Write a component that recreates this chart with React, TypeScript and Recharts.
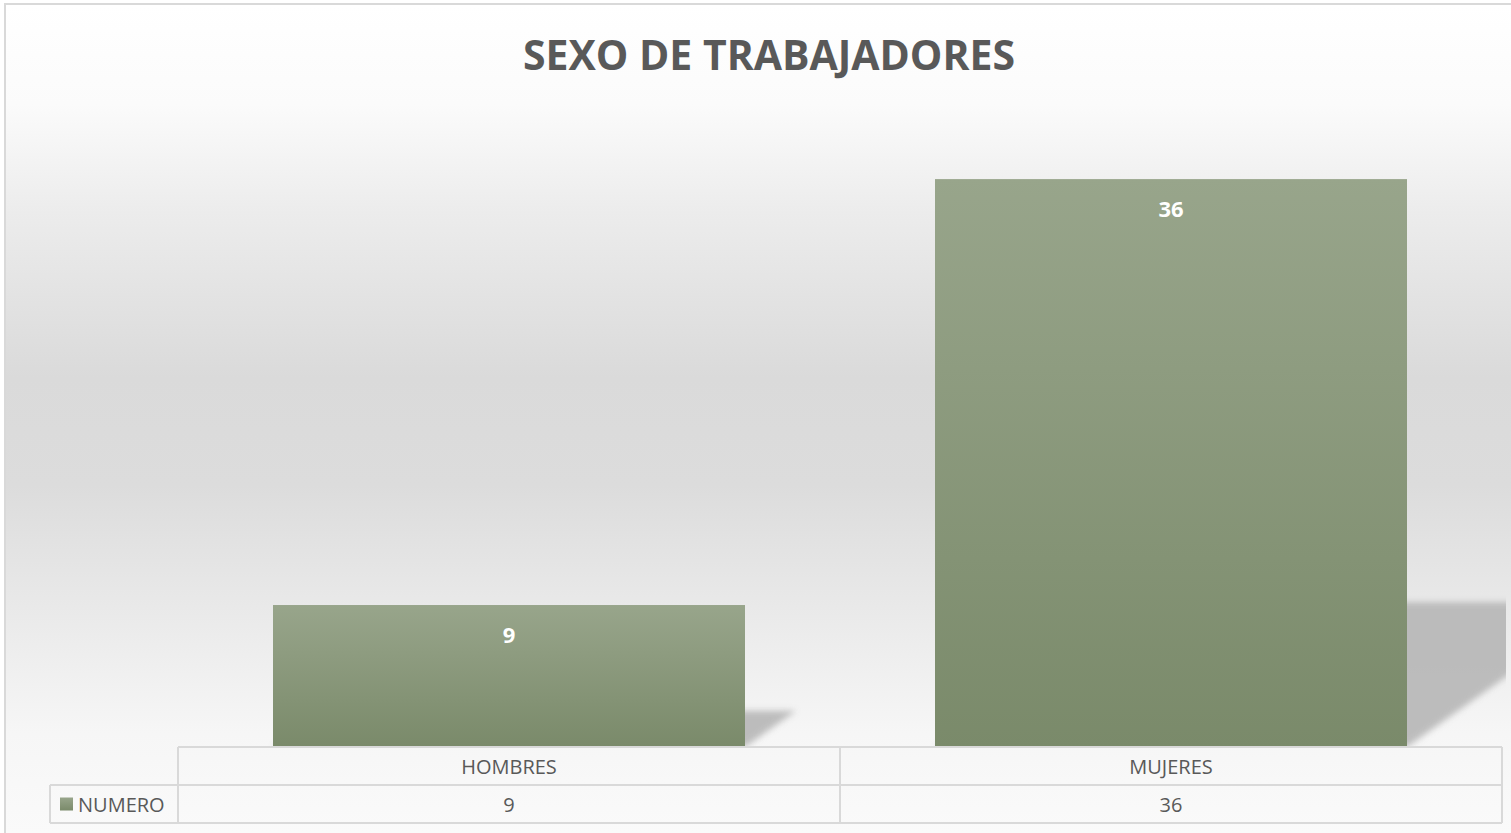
import React from 'react';
import { BarChart, Bar, XAxis, YAxis, LabelList, Customized } from 'recharts';

const categories = ['HOMBRES', 'MUJERES'];
const values = [9, 36];
const seriesName = 'NUMERO';
const chartTitle = 'SEXO DE TRABAJADORES';
const yDomain = [0, 40];

const W = 1511;
const H = 833;
const MARGIN = { top: 116, right: 9, left: 178, bottom: 10 };
const TABLE_H = 76;
const TABLE_TOP = H - MARGIN.bottom - TABLE_H;
const PLOT_W = W - MARGIN.left - MARGIN.right;
const COL_W = PLOT_W / categories.length;
const LEGEND_LEFT = 50;
const LINE = '#d9d9d9';
const TXT = '#595959';
const FONT = '"Open Sans", "DejaVu Sans", sans-serif';

const data = categories.map((c, i) => ({ name: c, value: values[i] }));

const BarShape = (props: any) => {
  const { x, y, width, height } = props;
  const base = y + height;
  const k = 0.255 * height;
  const s = 0.36 * height;
  const pts = `${x},${base} ${x + width},${base} ${x + width + s},${base - k} ${x + s},${base - k}`;
  return (
    <g>
      <polygon points={pts} fill="#b3b3b3" opacity={0.85} filter="url(#shadowBlur)" clipPath="url(#chartClip)" />
      <rect x={x} y={y} width={width} height={height} fill="url(#barGrad)" />
    </g>
  );
};

const TableTick = (props: any) => {
  const { index, payload } = props;
  const left = MARGIN.left + index * COL_W;
  const cx = left + COL_W / 2;
  const r1 = TABLE_TOP;
  const r2 = TABLE_TOP + TABLE_H / 2;
  const r3 = TABLE_TOP + TABLE_H;
  return (
    <g>
      <line x1={left} y1={r1} x2={left + COL_W} y2={r1} stroke={LINE} strokeWidth={2} />
      <line x1={left} y1={r2} x2={left + COL_W} y2={r2} stroke={LINE} strokeWidth={2} />
      <line x1={left} y1={r3} x2={left + COL_W} y2={r3} stroke={LINE} strokeWidth={2} />
      <line x1={left} y1={r1} x2={left} y2={r3} stroke={LINE} strokeWidth={2} />
      {index === categories.length - 1 && (
        <line x1={left + COL_W} y1={r1} x2={left + COL_W} y2={r3} stroke={LINE} strokeWidth={2} />
      )}
      <text x={cx} y={(r1 + r2) / 2} textAnchor="middle" dominantBaseline="central" fill={TXT} fontSize={20} fontFamily={FONT}>
        {payload.value}
      </text>
      <text x={cx} y={(r2 + r3) / 2} textAnchor="middle" dominantBaseline="central" fill={TXT} fontSize={20} fontFamily={FONT}>
        {values[index]}
      </text>
      {index === 0 && (
        <g>
          <line x1={LEGEND_LEFT} y1={r2} x2={left} y2={r2} stroke={LINE} strokeWidth={2} />
          <line x1={LEGEND_LEFT} y1={r3} x2={left} y2={r3} stroke={LINE} strokeWidth={2} />
          <line x1={LEGEND_LEFT} y1={r2} x2={LEGEND_LEFT} y2={r3} stroke={LINE} strokeWidth={2} />
          <rect x={60} y={(r2 + r3) / 2 - 6.5} width={13} height={13} fill="url(#barGrad)" />
          <text x={78} y={(r2 + r3) / 2} dominantBaseline="central" fill={TXT} fontSize={20} fontFamily={FONT}>
            {seriesName}
          </text>
        </g>
      )}
    </g>
  );
};

const Title = () => (
  <text x={769} y={70} textAnchor="middle" fill={TXT} fontSize={42} fontWeight={700} fontFamily={FONT} textLength={492} lengthAdjust="spacingAndGlyphs">
    {chartTitle}
  </text>
);

export default function App() {
  return (
    <div style={{ position: 'absolute', left: 0, top: 0, width: W, height: H, overflow: 'hidden' }}>
      <div
        style={{
          position: 'absolute',
          left: 4,
          top: 3,
          width: W - 4,
          height: H - 3,
          borderLeft: '2px solid #d9d9d9',
          borderTop: '2px solid #d9d9d9',
          boxSizing: 'border-box',
          background:
            'linear-gradient(to bottom, #ffffff 0%, #fbfbfb 12%, #ececec 25%, #dadada 45%, #dcdcdc 58%, #ebebeb 75%, #f6f6f6 88%, #fafafa 100%)',
        }}
      />
      <div style={{ position: 'absolute', left: 0, top: 0 }}>
        <BarChart width={W} height={H} data={data} margin={MARGIN} barCategoryGap={95}>
          <defs>
            <linearGradient id="barGrad" x1="0" y1="0" x2="0" y2="1">
              <stop offset="0%" stopColor="#98a58b" />
              <stop offset="100%" stopColor="#7a8a6a" />
            </linearGradient>
            <filter id="shadowBlur" x="-20%" y="-20%" width="140%" height="140%">
              <feGaussianBlur stdDeviation="3" />
            </filter>
            <clipPath id="chartClip">
              <rect x={0} y={0} width={1506} height={TABLE_TOP} />
            </clipPath>
          </defs>
          <XAxis dataKey="name" height={TABLE_H} axisLine={false} tickLine={false} interval={0} tick={<TableTick />} />
          <YAxis hide domain={yDomain} />
          <Bar dataKey="value" isAnimationActive={false} shape={<BarShape />}>
            <LabelList dataKey="value" position="insideTop" offset={22} fill="#ffffff" fontSize={22} fontWeight={700} fontFamily={FONT} />
          </Bar>
          <Customized component={<Title />} />
        </BarChart>
      </div>
    </div>
  );
}
